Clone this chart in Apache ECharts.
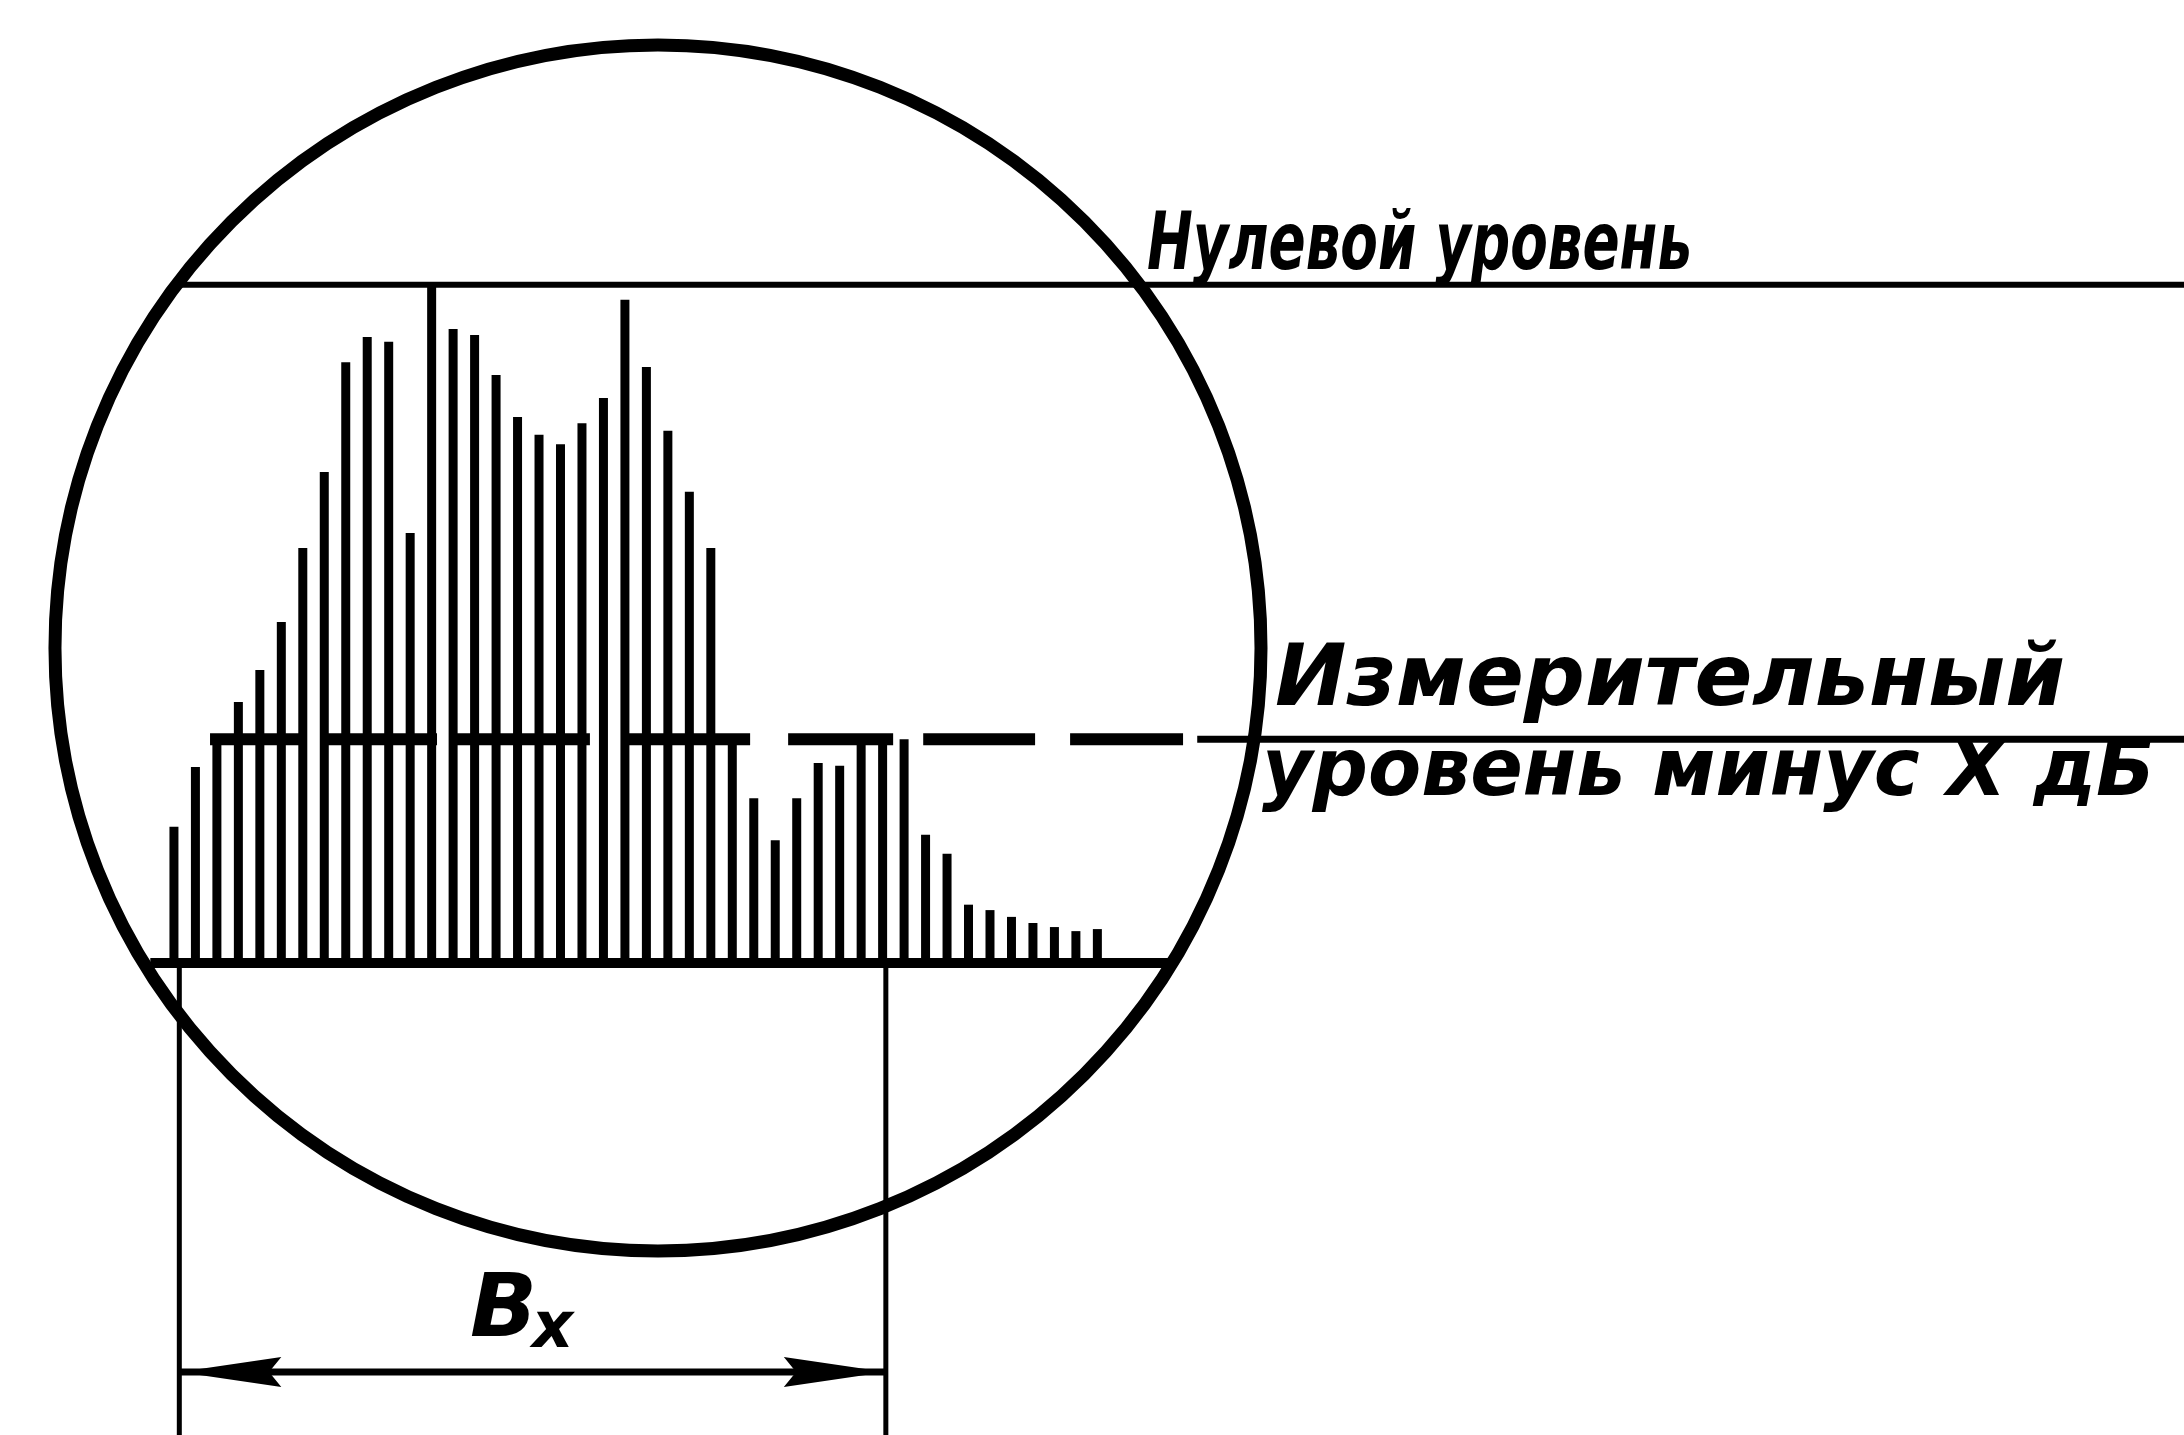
<!DOCTYPE html>
<html>
<head>
<meta charset="utf-8">
<script src="https://cdn.jsdelivr.net/npm/echarts@6/dist/echarts.min.js"></script>
<style>
html,body{margin:0;padding:0;background:#ffffff;}
#chart{width:2184px;height:1435px;}
</style>
</head>
<body>
<div id="chart"></div>
<script>
// ---------------- DATA ----------------
// spectral lines: equally spaced bins, level in % of screen (baseline = 0, zero level = 100)
const lineIndex = [1,2,3,4,5,6,7,8,9,10,11,12,13,14,15,16,17,18,19,20,21,22,
                   23,24,25,26,27,28,29,30,31,32,33,34,35,36,37,38,39,40,41,42,43,44];
const lineLevel = [20.1,28.9,33,38.5,43.2,50.3,61.2,72.4,88.6,92.3,91.6,63.4,100,93.5,92.6,86.7,
                   80.5,77.9,76.5,79.6,83.3,97.8,87.9,78.5,69.5,61.2,33,24.3,18.1,24.3,29.5,29.1,
                   33,33,33,18.9,16.1,8.6,7.8,6.8,5.9,5.3,4.7,5.0];
const zeroLevel = 100;
const measureLevel = 33;
const baseLevel = 0;
// dashes of the measuring level (bin units)
const measureDashStart = [2.68, 7.89, 14.18, 22.14, 29.60, 35.89, 42.73];
const measureDashEnd   = [7.10, 13.25, 20.37, 27.83, 34.49, 41.10, 47.99];
const measureTail = [48.65, 94.6];
const zeroLineSpan = [1.1, 94.6];
const baseLineSpan = [-0.1, 47.5];
// screen circle: centre (bin, level), radius in bins
const screenCircle = [23.54, 46.46, 28.08];
// bandwidth Bx: edges (bins), arrow level
const bandEdges = [1.25, 34.15];
const arrowLevel = -60.3;
const labelTexts = ['Нулевой уровень', 'Измерительный', 'уровень минус X дБ'];
const bandLabel = ['B', 'x'];

// ---------------- CHART ----------------
const chart = echarts.init(document.getElementById('chart'), null, {renderer: 'canvas', width: 2184, height: 1435});
const BLACK = '#000000';

function hRule(data, width, z) {
  return {
    type: 'custom', silent: true, z: z || 3, clip: false, animation: false,
    data: data,
    renderItem: function (params, api) {
      const p0 = api.coord([api.value(0), api.value(2)]);
      const p1 = api.coord([api.value(1), api.value(2)]);
      return {type: 'line', shape: {x1: p0[0], y1: p0[1], x2: p1[0], y2: p1[1]},
              style: {stroke: BLACK, lineWidth: width, lineCap: 'butt'}};
    }
  };
}

const FONT = '"DejaVu Sans"';
const measureCtx = document.createElement('canvas').getContext('2d');
function textEl(text, left, base, size, targetWidth) {
  const font = 'italic bold ' + size + 'px ' + FONT;
  measureCtx.font = font;
  const w = measureCtx.measureText(text).width;
  const sx = targetWidth ? targetWidth / w : 1;
  return {
    type: 'text', x: left, y: base - 0.3 * size, scaleX: sx, z: 20,
    style: {text: text, x: 0, y: 0, fill: BLACK, font: font, align: 'left', verticalAlign: 'middle'}
  };
}

const option = {
  animation: false,
  backgroundColor: '#ffffff',
  grid: {left: 0, right: 0, top: 0, bottom: 0},
  xAxis: {type: 'value', min: -7.1, max: 94.6, show: false},
  yAxis: {type: 'value', min: -69.6, max: 142, show: false},
  series: [
    {
      type: 'bar', barWidth: 9, silent: true, z: 4,
      itemStyle: {color: BLACK},
      data: lineIndex.map((x, i) => [x, lineLevel[i]])
    },
    hRule([[zeroLineSpan[0], zeroLineSpan[1], zeroLevel]], 6),
    hRule([[baseLineSpan[0], baseLineSpan[1], baseLevel]], 10),
    hRule(measureDashStart.map((s, i) => [s, measureDashEnd[i], measureLevel]), 12),
    hRule([[measureTail[0], measureTail[1], measureLevel]], 7),
    {
      type: 'custom', silent: true, z: 5, clip: false,
      data: [screenCircle],
      renderItem: function (params, api) {
        const c = api.coord([api.value(0), api.value(1)]);
        const r = api.size([api.value(2), 0])[0];
        return {type: 'circle', shape: {cx: c[0], cy: c[1], r: r},
                style: {fill: 'none', stroke: BLACK, lineWidth: 13}};
      }
    },
    {
      type: 'custom', silent: true, z: 5, clip: false,
      data: bandEdges.map(x => [x, baseLevel]),
      renderItem: function (params, api) {
        const p0 = api.coord([api.value(0), api.value(1)]);
        return {type: 'line', shape: {x1: p0[0], y1: p0[1], x2: p0[0], y2: 1440},
                style: {stroke: BLACK, lineWidth: 5}};
      }
    },
    {
      type: 'custom', silent: true, z: 6, clip: false,
      data: [[bandEdges[0], bandEdges[1], arrowLevel]],
      renderItem: function (params, api) {
        const a = api.coord([api.value(0), api.value(2)]);
        const b = api.coord([api.value(1), api.value(2)]);
        const L = 102, hw = 15;
        return {type: 'group', children: [
          {type: 'line', shape: {x1: a[0], y1: a[1], x2: b[0], y2: b[1]},
           style: {stroke: BLACK, lineWidth: 7}},
          {type: 'polygon', shape: {points: [[a[0], a[1]], [a[0] + L, a[1] - hw], [a[0] + L * 0.88, a[1]], [a[0] + L, a[1] + hw]]},
           style: {fill: BLACK}},
          {type: 'polygon', shape: {points: [[b[0], b[1]], [b[0] - L, b[1] - hw], [b[0] - L * 0.88, b[1]], [b[0] - L, b[1] + hw]]},
           style: {fill: BLACK}}
        ]};
      }
    }
  ],
  graphic: [
    textEl(labelTexts[0], 1147, 272, 80, 545),
    textEl(labelTexts[1], 1275, 708, 85, 790),
    textEl(labelTexts[2], 1262, 798, 80, 893),
    textEl(bandLabel[0], 470, 1340, 88, null),
    textEl(bandLabel[1], 532, 1350, 64, null)
  ]
};
chart.setOption(option);
</script>
</body>
</html>
